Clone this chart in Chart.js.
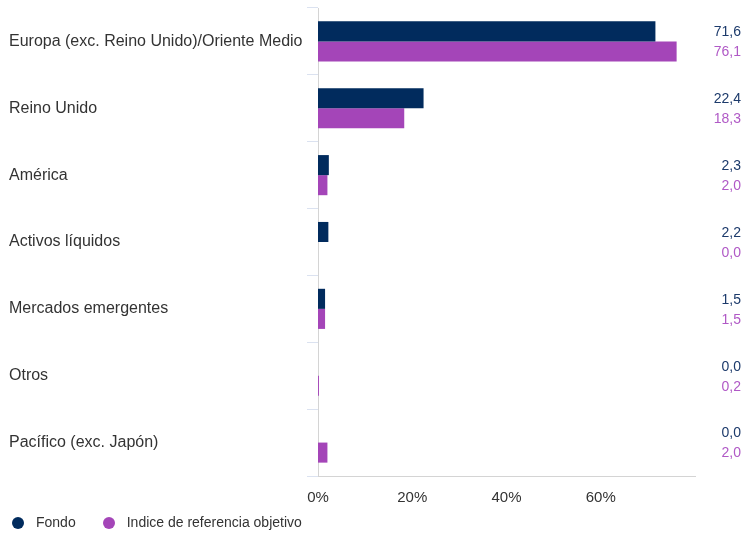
<!DOCTYPE html>
<html>
<head>
<meta charset="utf-8">
<script src="https://cdn.jsdelivr.net/npm/chart.js@4.4.1/dist/chart.umd.min.js"></script>
<style>
  html, body { margin: 0; padding: 0; background: #fff; }
  #wrap { position: relative; width: 743px; height: 533px; font-family: "Liberation Sans", Arial, sans-serif; }
  #legend { position: absolute; left: 12px; top: 514px; display: flex; font-size: 14px; color: #333; line-height: 17px; }
  #legend .item { display: flex; align-items: center; margin-right: 27px; }
  #legend .dot { width: 12px; height: 12px; border-radius: 50%; margin-right: 12px; }
</style>
</head>
<body>
<div id="wrap">
  <canvas id="chartAsignacion"></canvas>
  <div id="legend"></div>
</div>
<script>
// ── Datos ──────────────────────────────────────────────────────────────
const categorias = [
    'Europa (exc. Reino Unido)/Oriente Medio',
    'Reino Unido',
    'América',
    'Activos líquidos',
    'Mercados emergentes',
    'Otros',
    'Pacífico (exc. Japón)'
];
const fondo  = [71.6, 22.4, 2.3, 2.2, 1.5, 0.0, 0.0];
const indice = [76.1, 18.3, 2.0, 0.0, 1.5, 0.2, 2.0];
const xTicks = [0, 20, 40, 60];

const colores = {
    fondo:      '#012b5d',
    indice:     '#a445b8',
    fondoTxt:   '#1c3a6b',
    indiceTxt:  '#b059c6',
    text:       '#333333',
    axis:       '#d4d4d4',
    tick:       '#dbe2f0'
};
const FONT = '"Liberation Sans", Arial, sans-serif';

// etiquetas de valor a la derecha, alineadas con cada barra
const valueLabels = {
    id: 'valueLabels',
    afterDatasetsDraw(chart) {
        const ctx = chart.ctx;
        const txt = [colores.fondoTxt, colores.indiceTxt];
        ctx.save();
        ctx.font = '14px ' + FONT;
        ctx.textAlign = 'right';
        ctx.textBaseline = 'middle';
        chart.data.datasets.forEach((ds, di) => {
            const meta = chart.getDatasetMeta(di);
            ctx.fillStyle = txt[di];
            meta.data.forEach((bar, i) => {
                ctx.fillText(ds.data[i].toFixed(1).replace('.', ','), chart.width - 2, bar.y + 1);
            });
        });
        ctx.restore();
    }
};

const datasets = [
    { label: 'Fondo', data: fondo, backgroundColor: colores.fondo },
    { label: 'Indice de referencia objetivo', data: indice, backgroundColor: colores.indice }
];

new Chart(document.getElementById('chartAsignacion'), {
    type: 'bar',
    data: { labels: categorias, datasets },
    options: {
        indexAxis: 'y',
        responsive: true, maintainAspectRatio: false,
        animation: false,
        categoryPercentage: 0.6, barPercentage: 1.0,
        layout: { padding: { left: 9, right: 48, top: 8, bottom: 13 } },
        plugins: { legend: { display: false }, tooltip: { enabled: false } },
        scales: {
            x: {
                min: 0, max: 80,
                afterBuildTicks: s => { s.ticks = xTicks.concat([80]).map(v => ({ value: v })); },
                ticks: { color: colores.text, padding: 13, font: { size: 15, family: FONT }, callback: v => xTicks.includes(v) ? v + '%' : '' },
                grid: { display: false, drawTicks: false },
                border: { display: true, color: colores.axis, width: 1 }
            },
            y: {
                afterFit: s => { s.width = 309; s.paddingTop = 0; s.paddingBottom = 0; },
                ticks: { color: colores.text, crossAlign: 'far', font: { size: 16, family: FONT } },
                grid: { offset: true, drawOnChartArea: false, drawTicks: true, tickLength: 11, color: colores.tick, lineWidth: 1 },
                border: { display: true, color: colores.axis, width: 1 }
            }
        }
    },
    plugins: [valueLabels]
});

// leyenda
const leg = document.getElementById('legend');
datasets.forEach(ds => {
    const it = document.createElement('div');
    it.className = 'item';
    it.innerHTML = '<span class="dot" style="background:' + ds.backgroundColor + '"></span><span>' + ds.label + '</span>';
    leg.appendChild(it);
});
</script>
</body>
</html>
